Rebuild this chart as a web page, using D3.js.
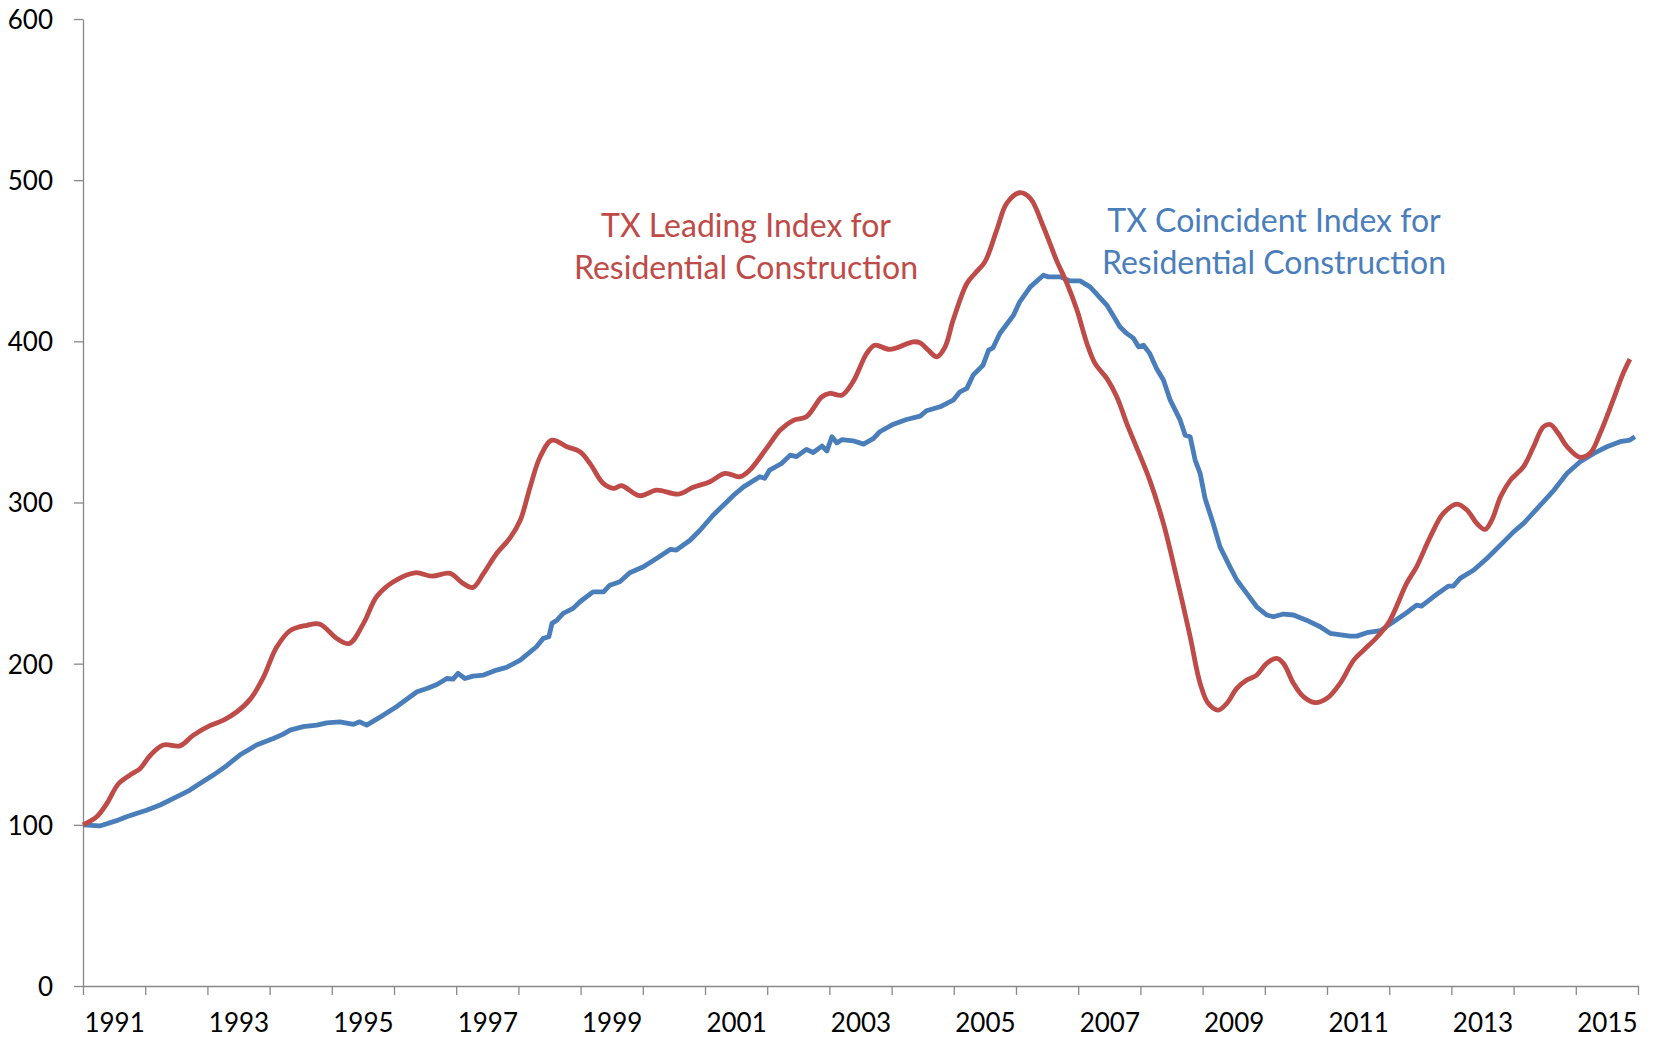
<!DOCTYPE html>
<html>
<head>
<meta charset="utf-8">
<script src="https://d3js.org/d3.v7.min.js"></script>
<style>
  body { margin: 0; background: #fff; }
  .axis path, .axis line { stroke: #898989; stroke-width: 1.3px; }
  .axis text { font-family: Lato, sans-serif; font-size: 26px; fill: #000; }
  .note { font-family: Lato, sans-serif; font-size: 32px; }
</style>
</head>
<body>
<script>
// Decimal years and index values (Jan 1991 = 100)
const leadYears = [1991.00, 1991.22, 1991.38, 1991.57, 1991.76, 1991.92, 1992.08, 1992.29, 1992.56, 1992.77,
  1993.04, 1993.26, 1993.47, 1993.69, 1993.90, 1994.11, 1994.33, 1994.60, 1994.81, 1995.08,
  1995.28, 1995.51, 1995.72, 1995.99, 1996.34, 1996.61, 1996.90, 1997.11, 1997.27, 1997.44,
  1997.65, 1997.86, 1998.03, 1998.19, 1998.35, 1998.54, 1998.78, 1998.99, 1999.15, 1999.36,
  1999.53, 1999.66, 1999.95, 2000.22, 2000.57, 2000.81, 2001.08, 2001.32, 2001.56, 2001.72,
  2001.99, 2002.21, 2002.42, 2002.63, 2002.88, 2003.01, 2003.20, 2003.38, 2003.60, 2003.73,
  2003.97, 2004.35, 2004.46, 2004.59, 2004.73, 2004.86, 2004.99, 2005.21, 2005.34, 2005.50,
  2005.69, 2005.85, 2006.06, 2006.23, 2006.44, 2006.65, 2006.82, 2006.98, 2007.14, 2007.27,
  2007.46, 2007.62, 2007.78, 2007.89, 2008.15, 2008.37, 2008.58, 2008.80, 2008.96, 2009.09,
  2009.25, 2009.39, 2009.55, 2009.71, 2009.87, 2010.03, 2010.19, 2010.30, 2010.46, 2010.62,
  2010.81, 2011.00, 2011.21, 2011.43, 2011.59, 2011.81, 2012.00, 2012.28, 2012.44, 2012.66,
  2012.87, 2013.09, 2013.25, 2013.41, 2013.54, 2013.65, 2013.79, 2013.95, 2014.16, 2014.32,
  2014.48, 2014.59, 2014.72, 2014.86, 2015.07, 2015.23, 2015.39, 2015.60, 2015.76, 2015.87];
const leadValues = [100, 105, 113, 125.5, 131, 135, 143, 149.5, 149, 155.5,
  161.5, 165, 170, 178, 191.5, 210, 220.5, 223.8, 224.5, 215.6,
  212.5, 225, 241.5, 250.8, 256.4, 254.3, 256, 249.8, 247.3, 256,
  268.4, 277.7, 289, 309.8, 328.4, 338.7, 334.6, 331.5, 324.3, 312,
  308.8, 310.4, 304.2, 307.7, 305.2, 309.4, 312.9, 318.1, 316, 320.1,
  333.6, 345, 351, 353.2, 365.6, 367.7, 366.6, 374.9, 392.5, 397.6,
  395, 399.7, 399, 394.5, 390.4, 396.6, 413.2, 435.9, 442.1, 449.3,
  469, 485.6, 492.2, 488.7, 471.1, 450.4, 435.9, 419.4, 398.7, 386.3,
  377, 365.6, 349.1, 338.7, 313.9, 287, 253.9, 216.7, 187.8, 175.4,
  171.2, 175.4, 184.7, 189.8, 192.9, 200.2, 203.3, 200.2, 187.8, 179.5,
  175.8, 178.5, 187.8, 202.2, 208.4, 216.7, 226, 249.8, 260.1, 278.7,
  293.2, 299, 295.3, 287, 283.3, 289.1, 303.6, 313.9, 322.2, 334.6,
  347, 348.4, 342.8, 334.6, 328, 330.5, 342.8, 363.5, 380, 389];

const coinYears = [1991.00, 1991.27, 1991.54, 1991.70, 1992.02, 1992.24, 1992.56, 1992.72, 1992.88, 1993.10,
  1993.31, 1993.52, 1993.79, 1994.06, 1994.22, 1994.33, 1994.54, 1994.76, 1994.92, 1995.13,
  1995.35, 1995.45, 1995.56, 1995.83, 1996.04, 1996.37, 1996.53, 1996.69, 1996.85, 1996.95,
  1997.03, 1997.14, 1997.27, 1997.44, 1997.65, 1997.81, 1998.03, 1998.29, 1998.40, 1998.49,
  1998.54, 1998.62, 1998.72, 1998.88, 1998.99, 1999.20, 1999.37, 1999.47, 1999.63, 1999.79,
  2000.01, 2000.22, 2000.44, 2000.54, 2000.76, 2000.92, 2001.13, 2001.46, 2001.62, 2001.88,
  2001.96, 2002.04, 2002.23, 2002.37, 2002.47, 2002.63, 2002.74, 2002.88, 2002.96, 2003.04,
  2003.12, 2003.20, 2003.38, 2003.55, 2003.71, 2003.81, 2004.03, 2004.24, 2004.46, 2004.56,
  2004.78, 2004.99, 2005.10, 2005.21, 2005.31, 2005.47, 2005.56, 2005.63, 2005.74, 2005.96,
  2006.06, 2006.23, 2006.44, 2006.52, 2006.71, 2006.87, 2007.03, 2007.19, 2007.46, 2007.67,
  2007.78, 2007.89, 2007.97, 2008.05, 2008.15, 2008.26, 2008.37, 2008.48, 2008.64, 2008.72,
  2008.80, 2008.88, 2008.96, 2009.04, 2009.17, 2009.28, 2009.44, 2009.55, 2009.71, 2009.87,
  2010.03, 2010.14, 2010.30, 2010.46, 2010.67, 2010.89, 2011.05, 2011.37, 2011.48, 2011.64,
  2011.86, 2012.07, 2012.28, 2012.44, 2012.52, 2012.71, 2012.95, 2013.03, 2013.14, 2013.36,
  2013.57, 2013.68, 2013.84, 2014.00, 2014.16, 2014.43, 2014.65, 2014.86, 2015.07, 2015.29,
  2015.50, 2015.71, 2015.87, 2015.95];
const coinValues = [100, 99.3, 102.6, 105, 109, 112.3, 118.4, 121.6, 125.7, 131,
  136.7, 143.3, 149.5, 153.6, 156.3, 158.8, 160.9, 161.9, 163.3, 163.9,
  162.4, 163.9, 161.9, 168.1, 173.3, 182.6, 184.6, 187.1, 190.8, 190.4,
  194, 190.8, 192.3, 192.9, 196, 197.7, 202.2, 210.5, 215.7, 216.7,
  225, 227, 231.2, 234.3, 238.4, 244.6, 244.6, 248.7, 250.8, 256.4,
  260.1, 265.3, 270.9, 270.5, 276.6, 282.8, 292.1, 304.5, 309.7, 316,
  315, 320.1, 324.2, 329.4, 328.5, 333, 331, 335, 332, 340.8,
  337, 339, 338.3, 336.2, 339.8, 343.9, 348.6, 351.5, 353.6, 356.9,
  359.4, 363.5, 368.7, 370.8, 379, 385.2, 394.5, 396, 404.9, 416.2,
  424.5, 433.8, 441, 440, 440, 437.5, 437.5, 433.8, 422.5, 409,
  404.9, 401.8, 396.6, 397.6, 392.5, 383.2, 376, 363.5, 351.1, 341.8,
  340.8, 326.3, 318.1, 302.5, 287, 272.5, 260.1, 251.9, 243.6, 235.3,
  230.2, 229.1, 230.8, 230.2, 227, 222.9, 218.8, 217.1, 217.1, 219.2,
  220.5, 226, 231.6, 236.3, 235.7, 241.5, 248.1, 248.1, 252.9, 258.1,
  265.3, 269.4, 275.6, 281.8, 287, 298.4, 307.7, 318.1, 325.3, 330.5,
  334.6, 337.7, 338.7, 340.8];

// Axis ticks and labels
const yTicks = [0, 100, 200, 300, 400, 500, 600];
const tickYears = d3.range(1991, 2017);
const labelYears = [1991, 1993, 1995, 1997, 1999, 2001, 2003, 2005, 2007, 2009, 2011, 2013, 2015];

// Annotation texts
const leadNote = ["TX Leading Index for", "Residential Construction"];
const coinNote = ["TX Coincident Index for", "Residential Construction"];

// SVG area and margins
const svgWidth = 1653;
const svgHeight = 1038;
const margin = { top: 19, right: 15, bottom: 52, left: 83 };
const chartWidth = svgWidth - margin.left - margin.right;
const chartHeight = svgHeight - margin.top - margin.bottom;

const svg = d3.select("body")
  .append("svg")
  .attr("width", svgWidth)
  .attr("height", svgHeight);

const chartGroup = svg.append("g")
  .attr("transform", `translate(${margin.left}, ${margin.top})`);

// Scales
const xScale = d3.scaleLinear().domain([1991, 2016]).range([0, chartWidth]);
const yScale = d3.scaleLinear().domain([0, 600]).range([chartHeight, 0]);

// Y axis
chartGroup.append("g")
  .classed("axis", true)
  .call(d3.axisLeft(yScale).tickValues(yTicks).tickSize(9).tickSizeOuter(0).tickPadding(21))
  .selectAll("text").attr("dy", "0.36em");

// X axis: a tick at every year, labels every other year centred in the year
chartGroup.append("g")
  .classed("axis", true)
  .attr("transform", `translate(0, ${chartHeight})`)
  .call(d3.axisBottom(xScale).tickValues(tickYears).tickSize(9).tickSizeOuter(0).tickFormat(""));

const xLabels = chartGroup.append("g")
  .classed("axis", true)
  .attr("transform", `translate(0, ${chartHeight})`)
  .call(d3.axisBottom(xScale).tickValues(labelYears.map(d => d + 0.5)).tickSize(0)
    .tickFormat(d => String(Math.floor(d))));
xLabels.select(".domain").remove();
xLabels.selectAll("text").attr("y", 46).attr("dy", null);

// Lines
const leadLine = d3.line()
  .x((d, i) => xScale(leadYears[i]))
  .y(d => yScale(d))
  .curve(d3.curveCatmullRom.alpha(0.5));

const coinLine = d3.line()
  .x((d, i) => xScale(coinYears[i]))
  .y(d => yScale(d));

chartGroup.append("path")
  .attr("d", coinLine(coinValues))
  .attr("fill", "none")
  .attr("stroke", "#4A7EBB")
  .attr("stroke-width", 4.8)
  .attr("stroke-linejoin", "round");

chartGroup.append("path")
  .attr("d", leadLine(leadValues))
  .attr("fill", "none")
  .attr("stroke", "#BE4B48")
  .attr("stroke-width", 4.8)
  .attr("stroke-linejoin", "round");

// Annotations
svg.append("text")
  .classed("note", true)
  .attr("fill", "#BE4B48")
  .attr("text-anchor", "middle")
  .selectAll("tspan")
  .data(leadNote)
  .enter()
  .append("tspan")
  .attr("x", 746)
  .attr("y", (d, i) => 237 + i * 42)
  .text(d => d);

svg.append("text")
  .classed("note", true)
  .attr("fill", "#4A7EBB")
  .attr("text-anchor", "middle")
  .selectAll("tspan")
  .data(coinNote)
  .enter()
  .append("tspan")
  .attr("x", 1274)
  .attr("y", (d, i) => 232 + i * 42)
  .text(d => d);
</script>
</body>
</html>
